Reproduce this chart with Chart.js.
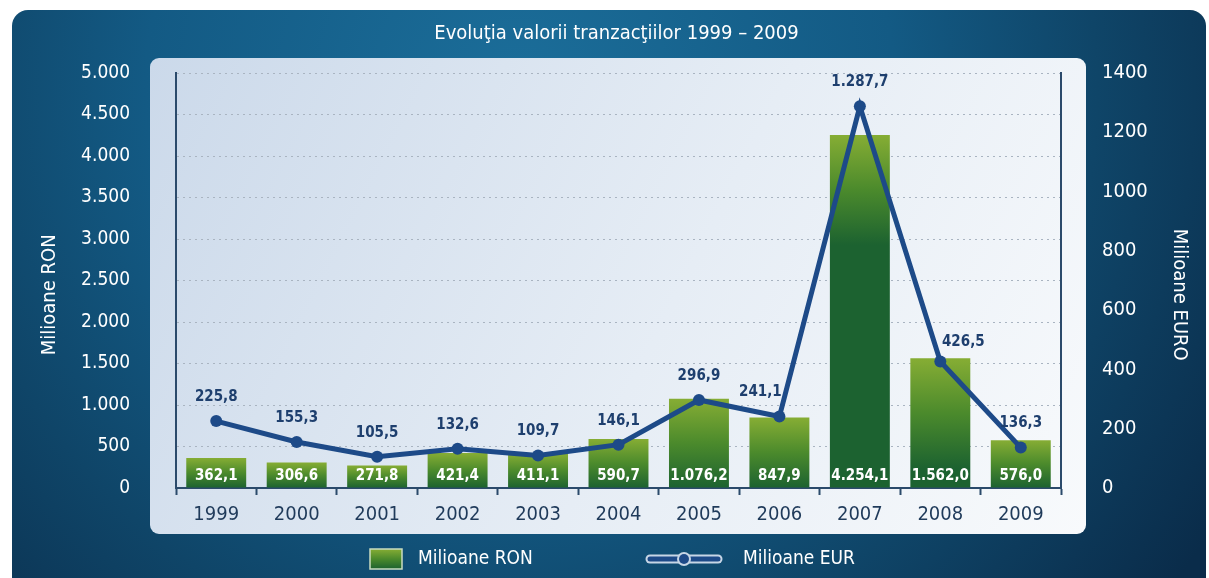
<!DOCTYPE html>
<html>
<head>
<meta charset="utf-8">
<script src="https://cdn.jsdelivr.net/npm/chart.js@4/dist/chart.umd.min.js"></script>
<style>
  html, body { margin: 0; padding: 0; background: #ffffff; }
  #chart { display: block; }
</style>
</head>
<body>
<canvas id="chart" width="1209" height="578"></canvas>
<script>
const years = ["1999", "2000", "2001", "2002", "2003", "2004", "2005", "2006", "2007", "2008", "2009"];
const valuesRon = [362.1, 306.6, 271.8, 421.4, 411.1, 590.7, 1076.2, 847.9, 4254.1, 1562.0, 576.0];
const valuesEur = [225.8, 155.3, 105.5, 132.6, 109.7, 146.1, 296.9, 241.1, 1287.7, 426.5, 136.3];
const seriesNames = ["Milioane RON", "Milioane EUR"];
const axisTitles = ["Milioane RON", "Milioane EURO"];
const ronTicks = { min: 0, max: 5000, step: 500 };
const eurTicks = { min: 0, max: 1400, step: 200 };

const NARROW = "'DejaVu Sans Condensed', 'Liberation Sans', Arial, sans-serif";
const LINE_BLUE = "#1d4a88";
const AXIS_BLUE = "#2b4a6b";

// 1234.5 -> "1.234,5"
function fmtRo(v, dec) {
  const parts = v.toFixed(dec).split(".");
  const whole = parts[0].replace(/\B(?=(\d{3})+(?!\d))/g, ".");
  return dec ? whole + "," + parts[1] : whole;
}

// light green at the top of a bar, dark green further down
function greenGradient(ctx, top, base) {
  const h = Math.max(base - top, 1);
  const g = ctx.createLinearGradient(0, top, 0, top + Math.min(h, 110));
  g.addColorStop(0, "#86ad34");
  g.addColorStop(0.5, "#4b8a2c");
  g.addColorStop(1, "#1c6230");
  return g;
}

// dark outer panel + light plot panel
const panels = {
  id: "panels",
  beforeDraw(chart) {
    const ctx = chart.ctx;
    ctx.save();
    const bg = ctx.createRadialGradient(520, 90, 10, 520, 90, 820);
    bg.addColorStop(0, "#1b6d99");
    bg.addColorStop(0.45, "#135a84");
    bg.addColorStop(0.7, "#0f4568");
    bg.addColorStop(1, "#0a2c4a");
    ctx.fillStyle = bg;
    ctx.beginPath();
    ctx.roundRect(12, 10, 1194, 600, [16, 16, 0, 0]);
    ctx.fill();

    const lg = ctx.createLinearGradient(150, 58, 1086, 534);
    lg.addColorStop(0, "#cbd9ea");
    lg.addColorStop(0.55, "#e6edf5");
    lg.addColorStop(1, "#f8fafc");
    ctx.fillStyle = lg;
    ctx.beginPath();
    ctx.roundRect(150, 58, 936, 476, 9);
    ctx.fill();
    ctx.restore();
  }
};

const valueLabels = {
  id: "valueLabels",
  afterDatasetsDraw(chart) {
    const ctx = chart.ctx;
    ctx.save();
    ctx.textAlign = "center";
    ctx.textBaseline = "middle";

    ctx.font = "bold 15px " + NARROW;
    ctx.fillStyle = "#ffffff";
    chart.getDatasetMeta(0).data.forEach((bar, i) => {
      ctx.fillText(fmtRo(valuesRon[i], 1), bar.x, bar.base - 11);
    });

    ctx.font = "bold 15px " + NARROW;
    ctx.fillStyle = "#1e3f6e";
    chart.getDatasetMeta(1).data.forEach((pt, i) => {
      let dx = 0, dy = -24;
      if (i === 7) dx = -19;            // 2006 label sits left of the line
      if (i === 9) { dx = 23; dy = -19; } // 2008 label sits right of the line
      ctx.fillText(fmtRo(valuesEur[i], 1), pt.x + dx, pt.y + dy);
    });
    ctx.restore();
  }
};

const bottomLegend = {
  id: "bottomLegend",
  afterDraw(chart) {
    const ctx = chart.ctx;
    const y = 559;
    ctx.save();
    // bar swatch
    ctx.fillStyle = greenGradient(ctx, y - 10, y + 10);
    ctx.fillRect(370, y - 10, 32, 20);
    ctx.strokeStyle = "#c9dcc0";
    ctx.lineWidth = 1.5;
    ctx.strokeRect(370, y - 10, 32, 20);

    // line swatch
    ctx.lineCap = "round";
    ctx.strokeStyle = "#c7d6e6";
    ctx.lineWidth = 9;
    ctx.beginPath(); ctx.moveTo(650, y); ctx.lineTo(718, y); ctx.stroke();
    ctx.strokeStyle = LINE_BLUE;
    ctx.lineWidth = 5;
    ctx.beginPath(); ctx.moveTo(650, y); ctx.lineTo(718, y); ctx.stroke();
    ctx.fillStyle = "#c7d6e6";
    ctx.beginPath(); ctx.arc(684, y, 7, 0, Math.PI * 2); ctx.fill();
    ctx.fillStyle = LINE_BLUE;
    ctx.beginPath(); ctx.arc(684, y, 5, 0, Math.PI * 2); ctx.fill();

    ctx.fillStyle = "#ffffff";
    ctx.font = "19px " + NARROW;
    ctx.textAlign = "left";
    ctx.textBaseline = "middle";
    ctx.fillText(chart.data.datasets[0].label, 418, y);
    ctx.fillText(chart.data.datasets[1].label, 743, y);
    ctx.restore();
  }
};

new Chart(document.getElementById("chart"), {
  type: "bar",
  data: {
    labels: years,
    datasets: [
      {
        type: "bar",
        label: seriesNames[0],
        data: valuesRon,
        yAxisID: "y",
        order: 2,
        barPercentage: 0.745,
        categoryPercentage: 1,
        backgroundColor: function (context) {
          const chart = context.chart;
          if (!chart.chartArea || context.type !== "data") return "#3f8a2c";
          const ys = chart.scales.y;
          return greenGradient(chart.ctx, ys.getPixelForValue(context.raw), ys.getPixelForValue(0));
        }
      },
      {
        type: "line",
        label: seriesNames[1],
        data: valuesEur,
        yAxisID: "y1",
        order: 1,
        borderColor: LINE_BLUE,
        backgroundColor: LINE_BLUE,
        borderWidth: 5,
        pointRadius: 6,
        pointBackgroundColor: LINE_BLUE,
        pointBorderWidth: 0,
        tension: 0
      }
    ]
  },
  options: {
    responsive: false,
    animation: false,
    layout: { padding: { left: 24, right: 0, top: 0, bottom: 0 } },
    plugins: {
      legend: { display: false },
      tooltip: { enabled: false },
      title: {
        display: true,
        text: "Evoluţia valorii tranzacţiilor 1999 – 2009",
        color: "#ffffff",
        font: { family: NARROW, size: 20, weight: "normal", lineHeight: 1.2 },
        padding: { top: 22, bottom: 27 }
      }
    },
    scales: {
      x: {
        offset: true,
        grid: {
          offset: true,
          drawOnChartArea: false,
          drawTicks: true,
          tickLength: 7,
          tickWidth: 2,
          color: AXIS_BLUE
        },
        border: { display: true, color: AXIS_BLUE, width: 2 },
        ticks: {
          color: "#1f3a5a",
          padding: 8,
          font: { family: NARROW, size: 20 }
        },
        afterFit(scale) { scale.height = 90; }
      },
      y: {
        position: "left",
        min: ronTicks.min,
        max: ronTicks.max,
        ticks: {
          stepSize: ronTicks.step,
          color: "#ffffff",
          padding: 46,
          font: { family: NARROW, size: 19 },
          callback: (v) => fmtRo(v, 0)
        },
        grid: {
          drawTicks: false,
          color: "#a9b4c1",
          lineWidth: 1
        },
        border: { display: true, color: AXIS_BLUE, width: 2, dash: [2, 4] },
        title: {
          display: true,
          text: axisTitles[0] + "     ",
          color: "#ffffff",
          font: { family: NARROW, size: 20, lineHeight: 1.2 },
          padding: { top: 14, bottom: 0 }
        },
        afterFit(scale) { scale.width = 152; }
      },
      y1: {
        position: "right",
        min: eurTicks.min,
        max: eurTicks.max,
        ticks: {
          stepSize: eurTicks.step,
          color: "#ffffff",
          padding: 41,
          font: { family: NARROW, size: 20 },
          callback: (v) => String(v)
        },
        grid: { drawOnChartArea: false, drawTicks: false },
        border: { display: true, color: AXIS_BLUE, width: 2 },
        title: {
          display: true,
          text: "     " + axisTitles[1],
          color: "#ffffff",
          font: { family: NARROW, size: 20, lineHeight: 1.2 },
          padding: { top: 18, bottom: 0 }
        },
        afterFit(scale) { scale.width = 148; }
      }
    }
  },
  plugins: [panels, valueLabels, bottomLegend]
});
</script>
</body>
</html>
